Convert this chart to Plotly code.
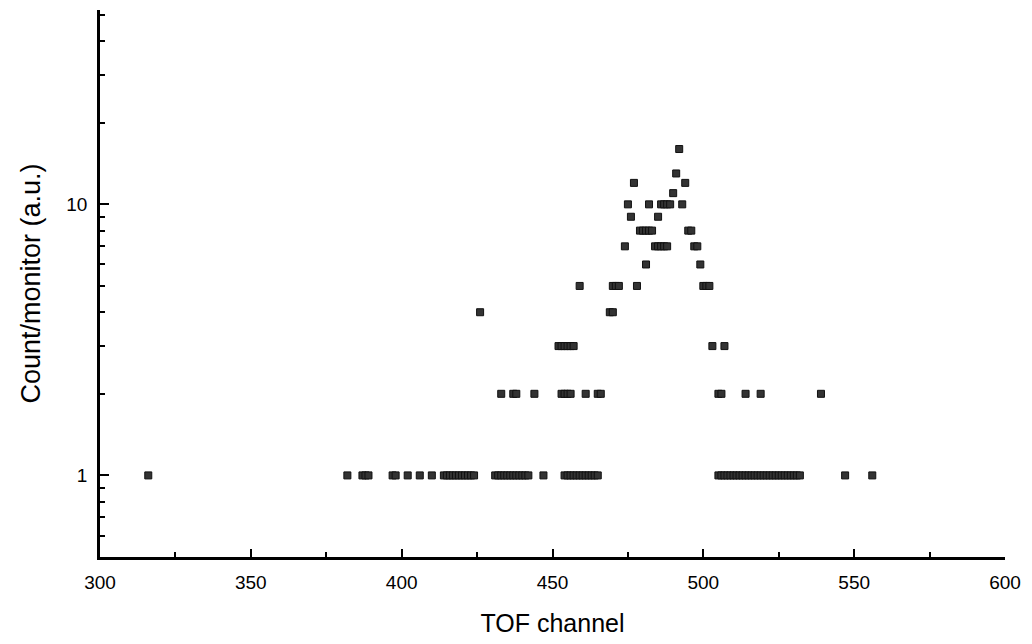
import plotly.graph_objects as go

# TOF channel positions grouped by count/monitor value
ch_1 = [316, 382, 387, 388, 389, 397, 398, 402, 406, 410] + list(range(414, 425)) + \
       list(range(431, 443)) + [447] + list(range(454, 466)) + list(range(505, 533)) + [547, 556]
ch_2 = [433, 437, 438, 444, 453, 454, 455, 456, 461, 465, 466, 505, 506, 514, 519, 539]
ch_3 = [452, 453, 454, 455, 456, 457, 503, 507]
ch_4 = [426, 469, 470]
ch_5 = [459, 470, 471, 472, 478, 500, 501, 502]
ch_6 = [481, 499]
ch_7 = [474, 484, 485, 486, 487, 488, 497, 498]
ch_8 = [479, 480, 481, 482, 483, 495, 496]
ch_9 = [476, 485]
ch_10 = [475, 482, 486, 487, 488, 489, 493]
ch_11 = [490]
ch_12 = [477, 494]
ch_13 = [491]
ch_16 = [492]

groups = [(1, ch_1), (2, ch_2), (3, ch_3), (4, ch_4), (5, ch_5), (6, ch_6), (7, ch_7),
          (8, ch_8), (9, ch_9), (10, ch_10), (11, ch_11), (12, ch_12), (13, ch_13), (16, ch_16)]

xs, ys = [], []
for val, chans in groups:
    for c in chans:
        xs.append(c)
        ys.append(val)

fig = go.Figure(go.Scatter(
    x=xs, y=ys, mode="markers",
    marker=dict(symbol="square", size=7, color="#333333",
                line=dict(width=1, color="#111111")),
    showlegend=False,
))

font_family = "Liberation Sans, Arial, sans-serif"

fig.update_layout(
    width=1032, height=644,
    margin=dict(l=100, r=27, t=10, b=87),
    paper_bgcolor="white", plot_bgcolor="white",
    font=dict(family=font_family, color="black"),
)

fig.update_xaxes(
    range=[300, 600], tickmode="linear", tick0=300, dtick=50,
    ticks="inside", ticklen=8, tickwidth=2, tickcolor="black",
    minor=dict(ticks="inside", ticklen=5, tickwidth=1.5, tickcolor="black", dtick=25),
    showline=True, linecolor="black", linewidth=2.5, mirror=False,
    showgrid=False, zeroline=False,
    tickfont=dict(size=19), ticklabelstandoff=6,
    title=dict(text="TOF channel", font=dict(size=25), standoff=23),
)

fig.update_yaxes(
    type="log", range=[-0.301, 1.717],
    tickvals=[1, 10], ticktext=["1", "10"],
    ticks="inside", ticklen=9, tickwidth=2, tickcolor="black",
    minor=dict(ticks="inside", ticklen=5, tickwidth=1.5, tickcolor="black",
               tickvals=[0.6, 0.7, 0.8, 0.9, 2, 3, 4, 5, 6, 7, 8, 9, 20, 30, 40, 50]),
    showline=True, linecolor="black", linewidth=2.5, mirror=False,
    showgrid=False, zeroline=False,
    tickfont=dict(size=19), ticklabelstandoff=6,
    title=dict(text="Count/monitor (a.u.)", font=dict(size=27), standoff=18),
)

fig.write_html("out.html")
